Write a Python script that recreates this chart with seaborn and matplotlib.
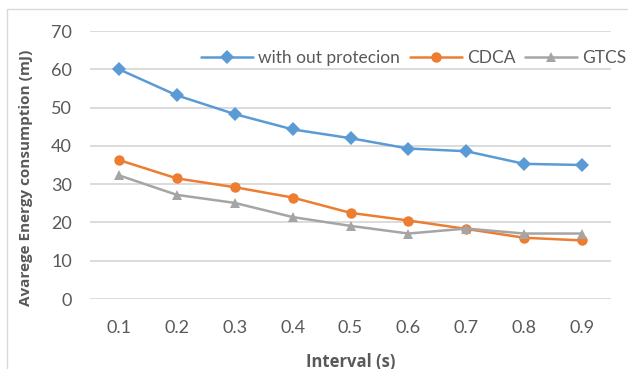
import matplotlib
matplotlib.use("Agg")
import matplotlib.pyplot as plt
from matplotlib.patches import Rectangle
import seaborn as sns
import pandas as pd

intervals = ["0.1", "0.2", "0.3", "0.4", "0.5", "0.6", "0.7", "0.8", "0.9"]
without_protection = [60.0, 53.2, 48.3, 44.3, 42.0, 39.3, 38.6, 35.3, 35.0]
cdca = [36.3, 31.5, 29.2, 26.5, 22.5, 20.5, 18.3, 16.0, 15.3]
gtcs = [32.3, 27.2, 25.1, 21.4, 19.1, 17.1, 18.4, 17.1, 17.1]

series_names = ["with out protecion", "CDCA", "GTCS"]
series_values = [without_protection, cdca, gtcs]

rows = []
for name, vals in zip(series_names, series_values):
    for i, v in enumerate(vals):
        rows.append({"pos": i, "value": v, "series": name})
df = pd.DataFrame(rows)

sns.set_theme(style="white")
plt.rcParams["font.family"] = ["Lato", "DejaVu Sans"]
text_col = "#595959"
label_font = ["Open Sans", "DejaVu Sans"]

fig = plt.figure(figsize=(6.28, 3.69), dpi=100)
fig.patch.set_facecolor("white")
fig.patches.append(Rectangle((7 / 628, -0.05), 1.0, (369 - 9) / 369 + 0.05,
                             transform=fig.transFigure, fill=False,
                             edgecolor="#D9D9D9", linewidth=1.0))

ax = fig.add_axes([90 / 628, (369 - 299) / 369, (611 - 90) / 628, (299 - 31) / 369])

palette = {"with out protecion": "#5B9BD5", "CDCA": "#ED7D31", "GTCS": "#A5A5A5"}
markers = {"with out protecion": "D", "CDCA": "o", "GTCS": "^"}
sns.lineplot(data=df, x="pos", y="value", hue="series", style="series",
             palette=palette, markers=markers, dashes=False, linewidth=1.8,
             markersize=7.5, markeredgewidth=0, ax=ax, zorder=3)

ax.set_xlim(-0.5, len(intervals) - 0.5)
ax.set_ylim(0, 70)
ax.set_yticks(range(0, 71, 10))
ax.set_xticks(range(len(intervals)))
ax.set_xticklabels(intervals)
ax.grid(axis="y", color="#D9D9D9", linewidth=1.3)
ax.set_axisbelow(True)
for s in ax.spines.values():
    s.set_visible(False)
ax.tick_params(axis="both", length=0, labelsize=13, labelcolor=text_col)
ax.tick_params(axis="y", pad=13)
ax.tick_params(axis="x", pad=15)

ax.set_xlabel("Interval (s)", fontsize=12, fontweight="bold", color=text_col,
              family=label_font, labelpad=12)
ax.set_ylabel("Avarege Energy consumption (mJ)", fontsize=11, fontweight="bold",
              color=text_col, family=label_font)
ax.yaxis.set_label_coords(-0.109, 0.453)

handles, labels = ax.get_legend_handles_labels()
leg = ax.legend(handles, labels, ncol=3, frameon=False, loc="center right",
                bbox_to_anchor=(1.06, 0.90), fontsize=12.5, handlelength=3.0,
                handletextpad=0.3, columnspacing=0.55, labelcolor=text_col)

fig.savefig("out.png", dpi=100, facecolor="white")
